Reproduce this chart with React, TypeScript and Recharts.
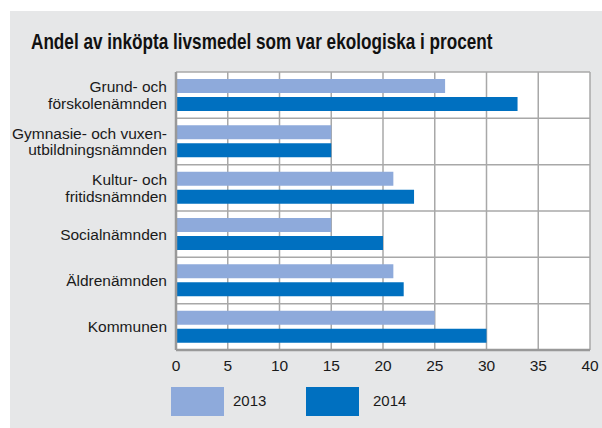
import React from "react";
import { BarChart, Bar, XAxis, YAxis, CartesianGrid } from "recharts";

const categories = [
  "Grund- och\nförskolenämnden",
  "Gymnasie- och vuxen-\nutbildningsnämnden",
  "Kultur- och\nfritidsnämnden",
  "Socialnämnden",
  "Äldrenämnden",
  "Kommunen",
];
const values2013 = [26, 15, 21, 15, 21, 25];
const values2014 = [33, 15, 23, 20, 22, 30];
const xTicks = [0, 5, 10, 15, 20, 25, 30, 35, 40];

const series = [
  { key: "y2013", name: "2013", color: "#8eaadb" },
  { key: "y2014", name: "2014", color: "#0070c0" },
];

const data = categories.map((name, i) => ({
  name,
  y2013: values2013[i],
  y2014: values2014[i],
}));

const FONT = "'Liberation Sans', Arial, sans-serif";

function CategoryTick(props: any) {
  const { x, y, payload } = props;
  const lines = String(payload.value).split("\n");
  const lh = 16.5;
  const start = -((lines.length - 1) * lh) / 2;
  return (
    <text x={x} y={y} textAnchor="end" fill="#1a1a1a" fontSize={15.5} fontFamily={FONT}>
      {lines.map((l, i) => (
        <tspan key={i} x={x} y={y + start + i * lh} dy="0.36em">
          {l}
        </tspan>
      ))}
    </text>
  );
}

export default function App() {
  return (
    <div style={{ position: "absolute", left: 0, top: 0, width: 602, height: 428, background: "#fff" }}>
      <div style={{ position: "absolute", left: 10, top: 11, width: 592, height: 417, background: "#e6e7e8" }} />
      <div
        style={{
          position: "absolute",
          left: 31,
          top: 30,
          fontFamily: FONT,
          fontWeight: "bold",
          fontSize: 21.5,
          lineHeight: "25px",
          color: "#111",
          whiteSpace: "nowrap",
          transform: "scaleX(0.798)",
          transformOrigin: "0 0",
        }}
      >
        Andel av inköpta livsmedel som var ekologiska i procent
      </div>
      <div style={{ position: "absolute", left: 0, top: 0 }}>
        <BarChart
          width={602}
          height={428}
          data={data}
          layout="vertical"
          margin={{ top: 72, right: 12, bottom: 48, left: 10 }}
          barSize={14}
          barGap={4}
        >
          <CartesianGrid
            fill="#ffffff"
            stroke="#a8a8a8"
            strokeWidth={1.5}
            xAxisId="b"
            yAxisId="l"
            horizontalCoordinatesGenerator={({ offset }: any) =>
              categories.map((_, i) => offset.top + (i * offset.height) / categories.length)
            }
          />
          <XAxis
            xAxisId="b"
            type="number"
            domain={[0, 40]}
            ticks={xTicks}
            interval={0}
            height={30}
            tickLine={false}
            axisLine={{ stroke: "#999", strokeWidth: 2.5 }}
            tickMargin={4}
            tick={{ fill: "#1a1a1a", fontSize: 15.5, fontFamily: FONT }}
          />
          <XAxis
            xAxisId="t"
            orientation="top"
            type="number"
            domain={[0, 40]}
            height={0}
            tick={false}
            tickLine={false}
            axisLine={{ stroke: "#999", strokeWidth: 2.5 }}
          />
          <YAxis
            yAxisId="l"
            type="category"
            dataKey="name"
            width={166}
            tickLine={false}
            axisLine={{ stroke: "#999", strokeWidth: 2.5 }}
            tickMargin={3}
            interval={0}
            tick={<CategoryTick />}
          />
          <YAxis
            yAxisId="r"
            orientation="right"
            type="category"
            dataKey="name"
            width={0}
            tick={false}
            tickLine={false}
            axisLine={{ stroke: "#999", strokeWidth: 2.5 }}
          />
          {series.map((s) => (
            <Bar
              key={s.key}
              dataKey={s.key}
              name={s.name}
              fill={s.color}
              xAxisId="b"
              yAxisId="l"
              isAnimationActive={false}
            />
          ))}
        </BarChart>
      </div>
      {series.map((s, i) => (
        <div key={s.key}>
          <div
            style={{
              position: "absolute",
              left: 171 + i * 135,
              top: 387,
              width: 53,
              height: 29,
              background: s.color,
            }}
          />
          <div
            style={{
              position: "absolute",
              left: 233 + i * 140,
              top: 392,
              fontFamily: FONT,
              fontSize: 15,
              color: "#1a1a1a",
            }}
          >
            {s.name}
          </div>
        </div>
      ))}
    </div>
  );
}
